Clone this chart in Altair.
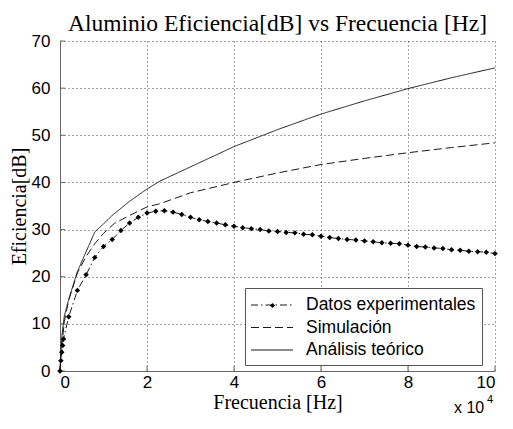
import altair as alt
import pandas as pd

# ---- data (frequency in units of 1e4 Hz, efficiency in dB) ----
exp_x = [0, 0.02, 0.04, 0.06, 0.08, 0.2, 0.4, 0.6, 0.8, 1.0, 1.2, 1.4, 1.6, 1.8, 2.0,
         2.2, 2.4, 2.6, 2.8, 3.0, 3.2, 3.4, 3.6, 3.8, 4.0, 4.2, 4.4, 4.6, 4.8, 5.0,
         5.2, 5.4, 5.6, 5.8, 6.0, 6.2, 6.4, 6.6, 6.8, 7.0, 7.2, 7.4, 7.6, 7.8, 8.0,
         8.2, 8.4, 8.6, 8.8, 9.0, 9.2, 9.4, 9.6, 9.8, 10.0]
exp_y = [0, 2.2, 4.0, 5.4, 6.8, 11.5, 17.1, 20.4, 24.1, 26.4, 27.9, 29.8, 31.4, 32.6, 33.5,
         33.9, 34.0, 33.7, 33.2, 32.6, 32.1, 31.7, 31.4, 31.0, 30.7, 30.4, 30.2, 30.0, 29.7, 29.6,
         29.4, 29.3, 29.0, 28.9, 28.6, 28.3, 28.1, 27.9, 27.8, 27.6, 27.4, 27.2, 27.1, 27.0, 26.7,
         26.4, 26.3, 26.1, 26.0, 25.7, 25.6, 25.4, 25.3, 25.2, 24.9]

sim_x = [0, 0.02, 0.05, 0.1, 0.2, 0.4, 0.6, 0.8, 1.0, 1.25, 1.6, 2.0, 2.3, 3.0, 4.0, 5.0, 6.0, 7.0, 8.0, 9.0, 10.0]
sim_y = [0, 3.0, 6.0, 10.5, 15.0, 20.8, 24.3, 27.0, 29.2, 31.3, 33.0, 34.8, 35.5, 37.8, 40.0, 42.0, 43.8, 45.1, 46.3, 47.4, 48.4]

teo_x = [0, 0.02, 0.05, 0.1, 0.2, 0.4, 0.8, 1.0, 1.2, 1.6, 2.0, 2.3, 3.0, 4.0, 5.0, 6.0, 7.0, 8.0, 9.0, 10.0]
teo_y = [0, 4.0, 8.0, 11.7, 15.2, 21.1, 29.5, 31.2, 33.0, 36.0, 38.6, 40.3, 43.3, 47.6, 51.2, 54.5, 57.3, 59.9, 62.2, 64.3]

series_names = ["Datos experimentales", "Simulación", "Análisis teórico"]
x_ticks = [0, 2, 4, 6, 8, 10]
y_ticks = [0, 10, 20, 30, 40, 50, 60, 70]

rows = []
for name, xs, ys in zip(series_names, [exp_x, sim_x, teo_x], [exp_y, sim_y, teo_y]):
    for a, b in zip(xs, ys):
        rows.append({"f": a, "e": b, "serie": name})
df = pd.DataFrame(rows)

W, H = 435, 330
xscale = alt.Scale(domain=[0, 10], nice=False)
yscale = alt.Scale(domain=[0, 70], nice=False)

xaxis = alt.Axis(values=x_ticks, title="Frecuencia [Hz]", grid=True, ticks=False, tickSize=0,
                 labelPadding=3, titlePadding=2)
yaxis = alt.Axis(values=y_ticks, title="Eficiencia[dB]", grid=True, ticks=False, tickSize=0,
                 labelPadding=10, titlePadding=2)

lines = alt.Chart(df).mark_line(strokeWidth=1, color="#1a1a1a").encode(
    x=alt.X("f:Q", scale=xscale, axis=xaxis),
    y=alt.Y("e:Q", scale=yscale, axis=yaxis),
    strokeDash=alt.StrokeDash(
        "serie:N",
        scale=alt.Scale(domain=series_names, range=[[7, 3, 1.5, 3], [8, 4], [1, 0]]),
        legend=alt.Legend(
            title=None, orient="none", legendX=185, legendY=247,
            symbolType="M-2,0H2", symbolSize=441, symbolOffset=10,
            symbolStrokeColor="#1a1a1a", symbolStrokeWidth=1,
            labelFont="Liberation Sans", labelFontSize=17.5, labelLimit=400,
            labelColor="black", labelOffset=23, padding=6, rowPadding=2.5,
            strokeColor="#555", fillColor="white", cornerRadius=0,
        ),
    ),
    detail="serie:N",
)

points = alt.Chart(df).transform_filter(
    alt.datum.serie == "Datos experimentales"
).mark_point(filled=True, size=30, color="black", opacity=1).encode(
    x=alt.X("f:Q", scale=xscale),
    y=alt.Y("e:Q", scale=yscale),
    shape=alt.Shape(
        "serie:N",
        scale=alt.Scale(domain=["Datos experimentales"], range=["diamond"]),
        legend=alt.Legend(
            title=None, orient="none", legendX=209, legendY=261,
            labelExpr="''", labelFontSize=4, padding=0, symbolFillColor="black",
            symbolStrokeColor="black", symbolSize=26,
        ),
    ),
)

xt = alt.Chart(pd.DataFrame({"t": x_ticks})).mark_rule(color="#666", strokeWidth=1).encode(
    x=alt.X("t:Q", scale=xscale), y=alt.value(H), y2=alt.value(H - 5)
)
yt = alt.Chart(pd.DataFrame({"t": y_ticks})).mark_rule(color="#666", strokeWidth=1).encode(
    y=alt.Y("t:Q", scale=yscale), x=alt.value(0), x2=alt.value(5)
)

mult = alt.Chart(pd.DataFrame({"s": ["x 10"]})).mark_text(
    font="Liberation Sans", fontSize=16, align="left", baseline="alphabetic", color="black"
).encode(x=alt.value(394), y=alt.value(H + 42), text="s:N")
expo = alt.Chart(pd.DataFrame({"s": ["4"]})).mark_text(
    font="Liberation Sans", fontSize=11, align="left", baseline="alphabetic", color="black"
).encode(x=alt.value(427), y=alt.value(H + 32), text="s:N")

chart = alt.layer(xt, yt, lines, points, mult, expo).resolve_legend(
    strokeDash="independent", shape="independent"
).properties(
    width=W, height=H,
    title=alt.TitleParams("Aluminio Eficiencia[dB] vs Frecuencia [Hz]", font="Liberation Serif",
                          fontSize=23.5, fontWeight="normal", color="black", offset=-3),
    padding={"left": 52, "top": 33, "right": 10, "bottom": 44},
    autosize=alt.AutoSizeParams(type="none"),
).configure_view(stroke=None).configure_axis(
    labelFont="Liberation Sans", labelFontSize=17, labelColor="black",
    titleFont="Liberation Serif", titleFontSize=20, titleFontWeight="normal", titleColor="black",
    gridColor="#333", gridDash=[1, 3], gridWidth=1, gridOpacity=0.9,
    domainColor="#666", domainWidth=1,
)

chart.save("out.html", embed_options={"renderer": "svg", "actions": False})
